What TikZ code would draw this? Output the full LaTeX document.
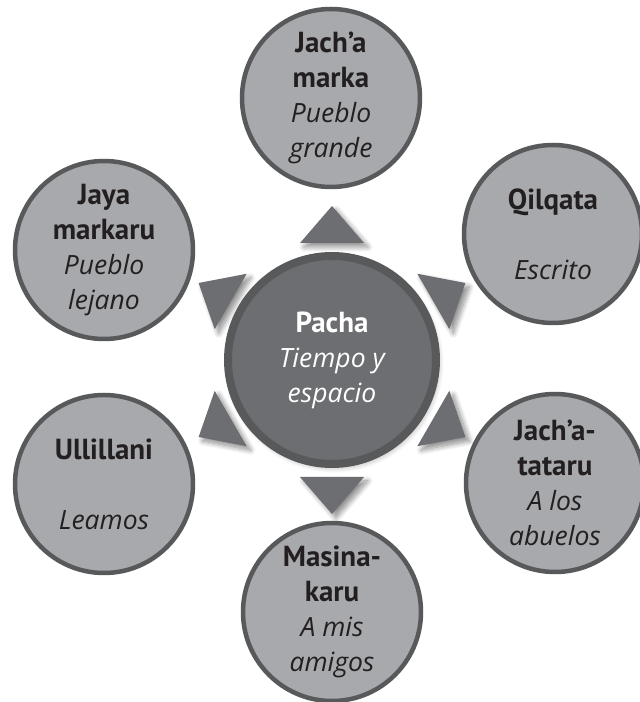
\documentclass[tikz,border=0pt]{standalone}
\usepackage{fontspec}
\setmainfont{PT Sans}
\newfontfamily\glossfamily{Open Sans}
\usetikzlibrary{calc,shadows.blur}

\definecolor{ringfill}{HTML}{A7A9AC}
\definecolor{ringline}{HTML}{58595B}
\definecolor{hubfill}{HTML}{6D6E71}
\definecolor{inktext}{HTML}{231F20}

\newcommand{\ttl}[1]{{\fontsize{29}{35}\selectfont\bfseries #1}}
\newcommand{\gloss}[1]{{\glossfamily\fontsize{26.5}{35}\selectfont\itshape #1}}

\tikzset{
  labeltext/.style={align=center, font=\fontsize{26}{35}\selectfont},
  leaf/.style={circle, draw=ringline, line width=4.5pt, fill=ringfill,
    minimum size=178pt, inner sep=0pt, text=inktext, labeltext},
  hub/.style={circle, draw=ringline, line width=8pt, fill=hubfill,
    minimum size=208pt, inner sep=0pt, text=white, labeltext,
    blur shadow={shadow xshift=2pt, shadow yshift=-3pt,
      shadow blur radius=6pt, shadow blur steps=10, shadow opacity=35}},
  pointer/.style={fill=hubfill,
    blur shadow={shadow xshift=4pt, shadow yshift=-4pt,
      shadow blur radius=5pt, shadow blur steps=10, shadow opacity=45}},
}

\begin{document}
\begin{tikzpicture}[x=1pt, y=1pt]
  \useasboundingbox (0,0) rectangle (640,702);

  % central circle
  \coordinate (mid) at (332,342);

  % outward-pointing triangles around the centre
  \foreach \a in {90,30,-30,-90,210,150}{
    \path[pointer] ($(mid)+(\a:117)+(\a+90:32)$) -- ($(mid)+(\a:154)$)
      -- ($(mid)+(\a:117)+(\a-90:32)$) -- cycle;
  }

  \node[hub] (hub) at (mid) {\ttl{Pacha}\\\gloss{Tiempo y}\\\gloss{espacio}};

  % surrounding circles
  \node[leaf] (top)  at (331,604) {\ttl{Jach’a}\\\ttl{marka}\\\gloss{Pueblo}\\\gloss{grande}};
  \node[leaf] (ur)   at (553,468) {\ttl{Qilqata}\\~\\\gloss{Escrito}};
  \node[leaf] (lr)   at (555,219) {\ttl{Jach’a-}\\\ttl{tataru}\\\gloss{A los}\\\gloss{abuelos}};
  \node[leaf] (bot)  at (332,90)  {\ttl{Masina-}\\\ttl{karu}\\\gloss{A mis}\\\gloss{amigos}};
  \node[leaf] (ll)   at (104,218) {\ttl{Ullillani}\\~\\\gloss{Leamos}};
  \node[leaf] (ul)   at (104,452) {\ttl{Jaya}\\\ttl{markaru}\\\gloss{Pueblo}\\\gloss{lejano}};
\end{tikzpicture}
\end{document}
